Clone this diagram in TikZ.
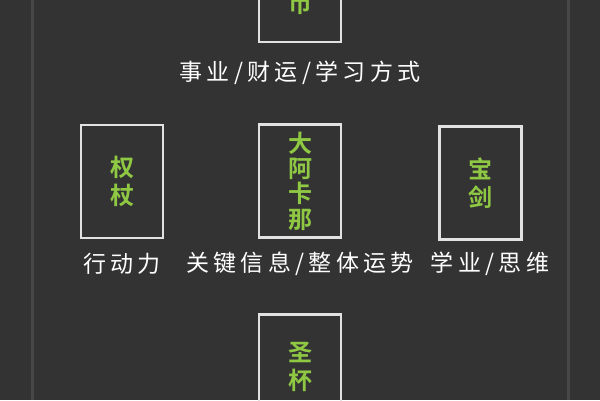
\documentclass[tikz,border=0pt]{standalone}
\usepackage{fontspec}
\newfontfamily\cjklbl[LetterSpace=19]{Noto Sans CJK SC}
\newfontfamily\cjkbold{Noto Sans CJK SC Bold}
\definecolor{bgc}{HTML}{333333}
\definecolor{railc}{HTML}{474747}
\definecolor{framec}{HTML}{E2E2E2}
\definecolor{greenc}{HTML}{8FC843}
\begin{document}
\begin{tikzpicture}[x=1pt,y=-1pt,
  card/.style={draw=framec,line width=2.6pt,minimum width=82pt,minimum height=113pt,inner sep=0pt,
    text=greenc,align=center,font=\cjkbold\fontsize{24}{25.3}\selectfont},
  cardtwo/.style={card,font=\cjkbold\fontsize{24}{28}\selectfont},
  lbl/.style={text=white,font=\cjklbl\fontsize{23}{26}\selectfont,inner sep=0pt},
  rail/.style={draw=railc,line width=3pt}]
\fill[bgc] (0,0) rectangle (600,400);
\useasboundingbox (0,0) rectangle (600,400);
\clip (0,0) rectangle (600,400);
\coordinate (r1t) at (32,0); \coordinate (r1b) at (32,400);
\coordinate (r2t) at (568,0); \coordinate (r2b) at (568,400);
\draw[rail] (r1t) -- (r1b);
\draw[rail] (r2t) -- (r2b);
% top card
\node[card] (top) at (300,-14.5) {};
\node[text=greenc,font=\cjkbold\fontsize{24}{25}\selectfont,inner sep=0pt] (topt) at (300,3.5) {币};
\node[lbl] (toplbl) at (300,73) {事业/财运/学习方式};
% middle row
\node[cardtwo] (left) at (122,181.5) {权\\杖};
\node[card] (mid) at (300,181) {大\\阿\\卡\\那};
\node[cardtwo] (right) at (480.5,183) {宝\\剑};
\node[lbl] (leftlbl) at (122,263.5) {行动力};
\node[lbl] (midlbl) at (300,263.5) {关键信息/整体运势};
\node[lbl] (rightlbl) at (490,263.5) {学业/思维};
% bottom card
\node[cardtwo,anchor=north] (bot) at (300,313) {};
\node[text=greenc,font=\cjkbold\fontsize{24}{28}\selectfont,inner sep=0pt,align=center] (bott) at (300,367) {圣\\杯};
\end{tikzpicture}
\end{document}
